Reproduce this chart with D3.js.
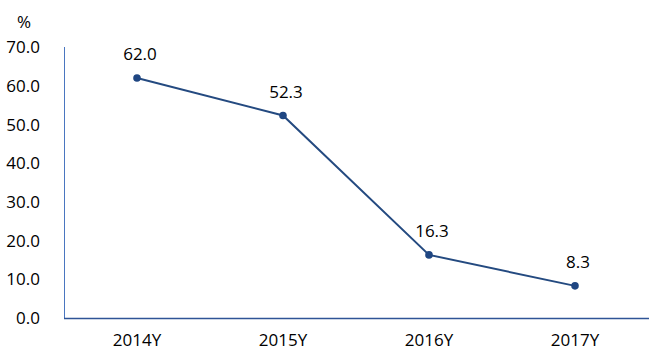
<!DOCTYPE html>
<html>
<head>
<meta charset="utf-8">
<script src="https://cdn.jsdelivr.net/npm/d3@7"></script>
<style>
  body { margin: 0; background: #fff; }
  svg text { font-family: "Open Sans", "Noto Sans", sans-serif; fill: #000; }
</style>
</head>
<body>
<div id="chart"></div>
<script>
// data
const years = ["2014Y", "2015Y", "2016Y", "2017Y"];
const values = [62.0, 52.3, 16.3, 8.3];
const yTicks = [0, 10, 20, 30, 40, 50, 60, 70];

const width = 649, height = 354;
const margin = { top: 47, right: 1, bottom: 36, left: 64 };

const svg = d3.select("#chart").append("svg")
  .attr("width", width)
  .attr("height", height);

const x = d3.scaleBand()
  .domain(years)
  .range([margin.left, width - margin.right]);

const y = d3.scaleLinear()
  .domain([0, 70])
  .range([height - margin.bottom, margin.top]);

// y axis line + labels
svg.append("line")
  .attr("x1", margin.left + 0.5).attr("x2", margin.left + 0.5)
  .attr("y1", y(70)).attr("y2", y(0))
  .attr("stroke", "#4a76c0").attr("stroke-width", 1);

svg.selectAll(".ytick")
  .data(yTicks)
  .enter().append("text")
  .attr("class", "ytick")
  .attr("x", 40)
  .attr("y", d => y(d))
  .attr("dy", "0.36em")
  .attr("text-anchor", "end")
  .style("font-size", "17px")
  .text(d => d.toFixed(1));

svg.append("text")
  .attr("x", 24)
  .attr("y", 28)
  .attr("text-anchor", "middle")
  .style("font-size", "17px")
  .text("%");

// x axis
svg.append("line")
  .attr("x1", margin.left).attr("x2", width)
  .attr("y1", y(0) + 0.5).attr("y2", y(0) + 0.5)
  .attr("stroke", "#2f5496").attr("stroke-width", 1.3);

svg.selectAll(".xtick")
  .data(years)
  .enter().append("text")
  .attr("class", "xtick")
  .attr("x", d => x(d) + x.bandwidth() / 2)
  .attr("y", 346)
  .attr("text-anchor", "middle")
  .style("font-size", "17px")
  .text(d => d);

// line
const line = d3.line()
  .x((d, i) => x(years[i]) + x.bandwidth() / 2)
  .y(d => y(d));

svg.append("path")
  .datum(values)
  .attr("d", line)
  .attr("fill", "none")
  .attr("stroke", "#244a80")
  .attr("stroke-width", 2);

svg.selectAll(".dot")
  .data(values)
  .enter().append("circle")
  .attr("class", "dot")
  .attr("cx", (d, i) => x(years[i]) + x.bandwidth() / 2)
  .attr("cy", d => y(d))
  .attr("r", 3.8)
  .attr("fill", "#1f4682");

svg.selectAll(".vlabel")
  .data(values)
  .enter().append("text")
  .attr("class", "vlabel")
  .attr("x", (d, i) => x(years[i]) + x.bandwidth() / 2 + 3)
  .attr("y", d => y(d) - 18)
  .attr("text-anchor", "middle")
  .style("font-size", "17px")
  .text(d => d.toFixed(1));
</script>
</body>
</html>
